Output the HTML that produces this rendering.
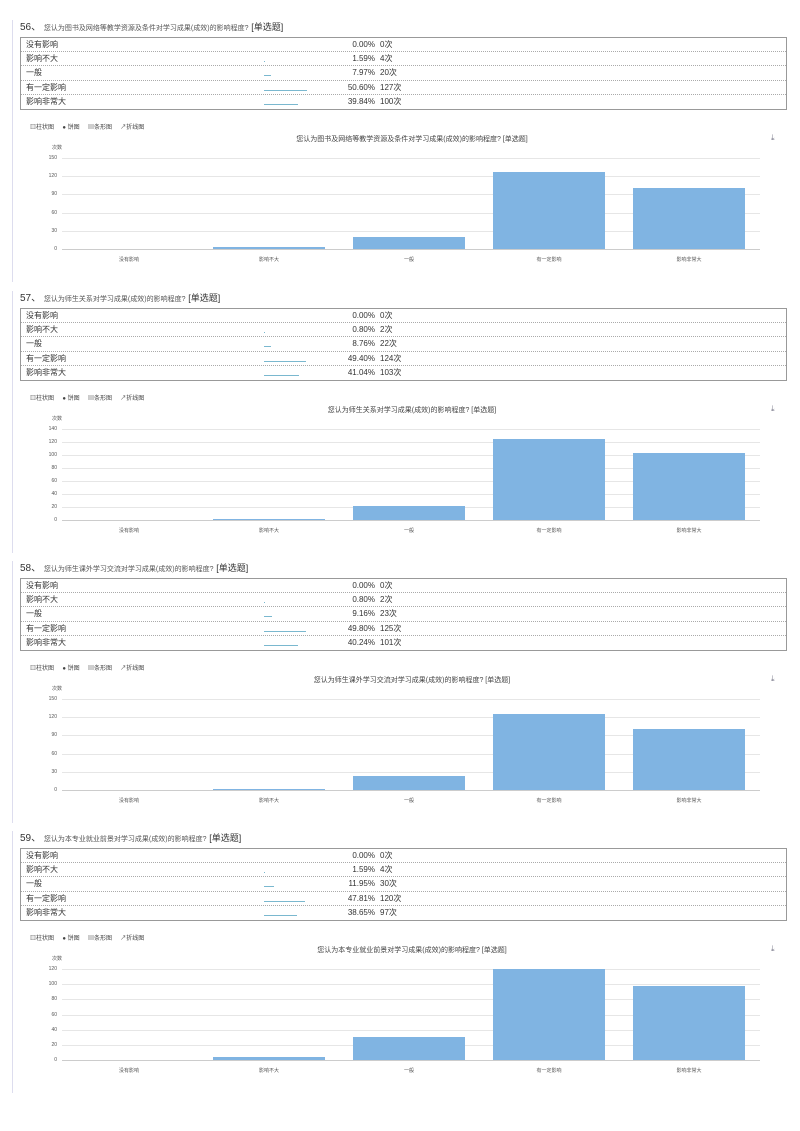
<!DOCTYPE html>
<html><head><meta charset="utf-8">
<style>
body{margin:0;background:#fff;width:800px;height:1131px;position:relative;overflow:hidden;font-family:"Liberation Sans","Noto Sans CJK SC",sans-serif;color:#333}
.a{position:absolute;white-space:nowrap}
</style></head><body>
<div id="root"></div>
<script>
var S=[
 {y:20,n:"56、",q:"您认为图书及网络等教学资源及条件对学习成果(成效)的影响程度?",
  p:["0.00%","1.59%","7.97%","50.60%","39.84%"],c:[0,4,20,127,100],max:150,step:30},
 {y:291,n:"57、",q:"您认为师生关系对学习成果(成效)的影响程度?",
  p:["0.00%","0.80%","8.76%","49.40%","41.04%"],c:[0,2,22,124,103],max:140,step:20},
 {y:561,n:"58、",q:"您认为师生课外学习交流对学习成果(成效)的影响程度?",
  p:["0.00%","0.80%","9.16%","49.80%","40.24%"],c:[0,2,23,125,101],max:150,step:30},
 {y:831,n:"59、",q:"您认为本专业就业前景对学习成果(成效)的影响程度?",
  p:["0.00%","1.59%","11.95%","47.81%","38.65%"],c:[0,4,30,120,97],max:120,step:20}
];
var L=["没有影响","影响不大","一般","有一定影响","影响非常大"];
var h="";
S.forEach(function(s){
 var y=s.y;
 h+='<div class="a" style="left:12px;top:'+y+'px;width:1px;height:262px;background:#dde"></div>';
 h+='<div class="a" style="left:20px;top:'+(y)+'px;font-size:10px;line-height:14px">'+s.n+' <span style="font-size:7px;color:#555">'+s.q+'</span> <span style="font-size:9px">[单选题]</span></div>';
 var ty=y+17;
 h+='<div class="a" style="left:20px;top:'+ty+'px;width:765px;height:71px;border:1px solid #999"></div>';
 for(var i=0;i<5;i++){
  var ry=ty+i*14.2;
  if(i>0)h+='<div class="a" style="left:21px;top:'+ry.toFixed(1)+'px;width:765px;border-top:1px dotted #aaa"></div>';
  h+='<div class="a" style="left:26px;top:'+(ry+2).toFixed(1)+'px;font-size:8px;line-height:11px">'+L[i]+'</div>';
  h+='<div class="a" style="left:320px;width:55px;text-align:right;top:'+(ry+2).toFixed(1)+'px;font-size:8px;line-height:11px">'+s.p[i]+'</div>';
  h+='<div class="a" style="left:380px;top:'+(ry+2).toFixed(1)+'px;font-size:8px;line-height:11px">'+s.c[i]+'次</div>';
  var w=parseFloat(s.p[i])*0.85;
  if(w>0)h+='<div class="a" style="left:264px;top:'+(ry+10).toFixed(1)+'px;width:'+Math.max(w,1).toFixed(1)+'px;height:1px;background:#7ab8cf"></div>';
 }
 var tb=y+102;
 h+='<div class="a" style="left:30px;top:'+tb+'px;font-size:6px;color:#444">▥柱状图&nbsp;&nbsp;&nbsp;&nbsp;&nbsp;● 饼图&nbsp;&nbsp;&nbsp;&nbsp;&nbsp;▤条形图&nbsp;&nbsp;&nbsp;&nbsp;&nbsp;↗折线图</div>';
 h+='<div class="a" style="left:62px;width:700px;text-align:center;top:'+(y+114)+'px;font-size:7px;color:#444">'+s.q.replace("?","? ")+'[单选题]</div>';
 h+='<div class="a" style="left:771px;top:'+(y+113)+'px;font-size:8px;color:#778">⤓</div>';
 h+='<div class="a" style="left:52px;top:'+(y+124)+'px;font-size:5px;color:#555">次数</div>';
 var top=y+138,bot=y+229,ph=bot-top;
 for(var v=0;v<=s.max;v+=s.step){
  var gy=bot-v/s.max*ph;
  h+='<div class="a" style="left:62px;top:'+gy.toFixed(1)+'px;width:698px;height:1px;background:'+(v==0?'#ccc':'#e6e6e6')+'"></div>';
  h+='<div class="a" style="left:30px;width:27px;text-align:right;top:'+(gy-3).toFixed(1)+'px;font-size:5px;line-height:6px;color:#555">'+v+'</div>';
 }
 for(var i=0;i<5;i++){
  var bx=73+i*140,bh=s.c[i]/s.max*ph;
  if(bh>0)h+='<div class="a" style="left:'+bx+'px;top:'+(bot-bh).toFixed(1)+'px;width:112px;height:'+bh.toFixed(1)+'px;background:#80b4e2"></div>';
  h+='<div class="a" style="left:'+(bx)+'px;width:112px;text-align:center;top:'+(bot+7)+'px;font-size:5px;color:#555">'+L[i]+'</div>';
 }
});
document.getElementById("root").innerHTML=h;
</script>
</body></html>
